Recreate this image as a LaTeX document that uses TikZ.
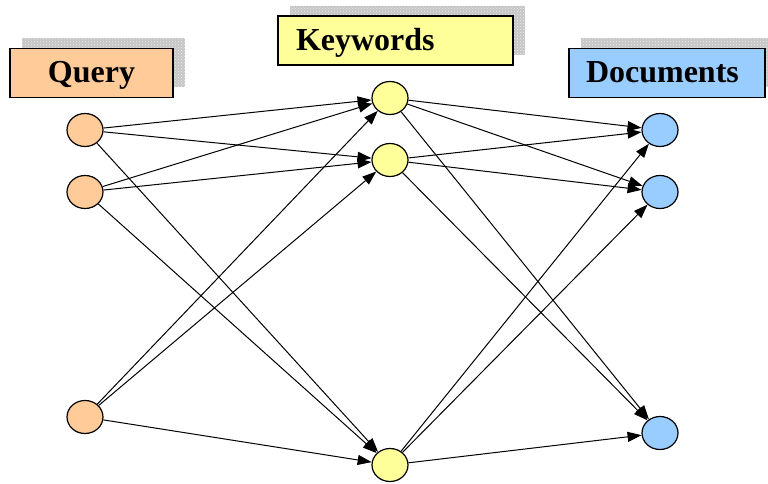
\documentclass[tikz,border=0pt]{standalone}
\usepackage{fontspec}
\setmainfont{Liberation Serif}
\usetikzlibrary{shapes.geometric,shadows,patterns,arrows.meta}

\definecolor{qorange}{HTML}{FFCC99}
\definecolor{kyellow}{HTML}{FFFF99}
\definecolor{dblue}{HTML}{99CCFF}

\begin{document}
\begin{tikzpicture}[
            x=1pt, y=-1pt,
            vertex/.style={ellipse, draw, line width=1.2pt, minimum width=36pt, minimum height=33pt, inner sep=0pt},
            header/.style={draw, line width=1.2pt, minimum height=49pt, inner xsep=0pt, inner ysep=0pt,
                text height=20pt, text depth=0pt, font=\fontsize{32}{36}\selectfont\bfseries,
                general shadow={fill=gray!45, shadow xshift=12pt, shadow yshift=10pt},
                general shadow={pattern=crosshatch dots, pattern color=gray!15, shadow xshift=12pt, shadow yshift=10pt}},
            link/.style={-{Triangle[length=14pt,width=10pt]}, line width=1pt}
            ]
            \useasboundingbox (0,0) rectangle (768,484);

            \node[header, fill=qorange, minimum width=163pt] (query) at (91.5,73) {Query};
            \node[header, fill=kyellow, text width=199pt, inner xsep=18pt, align=left] (keys) at (395.5,40.5) {Keywords};
            \node[header, fill=dblue, text width=162pt, inner xsep=17pt, align=left] (docs) at (667,73) {Documents};

            \node[vertex, fill=qorange] (q1) at (85,130) {};
            \node[vertex, fill=qorange] (q2) at (85,192) {};
            \node[vertex, fill=qorange] (q3) at (85,417) {};

            \node[vertex, fill=kyellow] (k1) at (390,98) {};
            \node[vertex, fill=kyellow] (k2) at (390,160) {};
            \node[vertex, fill=kyellow] (k3) at (390,465) {};

            \node[vertex, fill=dblue] (d1) at (660,130) {};
            \node[vertex, fill=dblue] (d2) at (660,192) {};
            \node[vertex, fill=dblue] (d3) at (660,433) {};

            \path[link] (q1) edge (k1) edge (k2) edge (k3);
            \path[link] (q2) edge (k1) edge (k2) edge (k3);
            \path[link] (q3) edge (k1) edge (k2) edge (k3);

            \path[link] (k1) edge (d1) edge (d2) edge (d3);
            \path[link] (k2) edge (d1) edge (d2) edge (d3);
            \path[link] (k3) edge (d1) edge (d2) edge (d3);

            \end{tikzpicture}
\end{document}
